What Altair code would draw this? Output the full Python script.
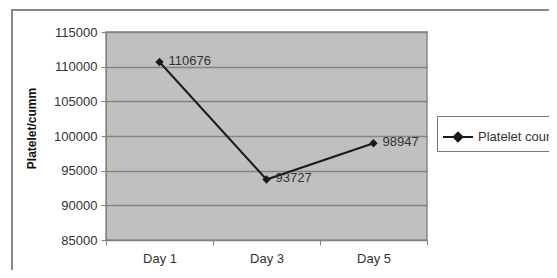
import altair as alt
import pandas as pd

days = ["Day 1", "Day 3", "Day 5"]
counts = [110676, 93727, 98947]
series = ["Platelet count", "Platelet count", "Platelet count"]
y_ticks = [85000, 90000, 95000, 100000, 105000, 110000, 115000]

df = pd.DataFrame({"day": days, "count": counts, "series": series})

FONT = "Liberation Sans"

x_axis = alt.Axis(labelAngle=0, tickBand="extent", grid=False,
                  labelFontSize=13, labelColor="#333", labelFont=FONT,
                  tickColor="#808080", domainColor="#808080",
                  tickSize=5, labelPadding=7)
y_axis = alt.Axis(values=y_ticks, format="d", grid=True, labelOverlap=False,
                  gridColor="#858585", gridWidth=1.3,
                  labelFontSize=13, labelColor="#333", labelFont=FONT,
                  tickColor="#808080", domainColor="#808080",
                  tickSize=5, labelPadding=4,
                  titleFont=FONT, titleFontSize=12, titleFontWeight="bold",
                  titleColor="#111", titlePadding=15, titleY=96)

x_enc = alt.X("day:N", sort=days, title=None,
              scale=alt.Scale(paddingInner=0, paddingOuter=0), axis=x_axis)
y_enc = alt.Y("count:Q", title="Platelet/cumm",
              scale=alt.Scale(domain=[85000, 115000], nice=False, zero=False),
              axis=y_axis)

color_enc = alt.Color("series:N", title=None,
                      scale=alt.Scale(range=["#1a1a1a"]),
                      legend=alt.Legend(orient="none", legendX=331, legendY=84,
                                        symbolType="M-1,0H1M0,-0.3L0.3,0L0,0.3L-0.3,0Z",
                                        symbolSize=900, symbolStrokeWidth=1.8,
                                        symbolFillColor="#1a1a1a",
                                        symbolStrokeColor="#1a1a1a",
                                        labelFont=FONT, labelFontSize=13,
                                        labelColor="#333", labelOffset=4,
                                        padding=5, strokeColor="#777",
                                        fillColor="white"))
color_nolegend = alt.Color("series:N", legend=None,
                           scale=alt.Scale(range=["#1a1a1a"]))

border = alt.Chart(pd.DataFrame({"a": [0]})).mark_rect(
    fill=None, stroke="#888", strokeWidth=2
).encode(x=alt.value(-94), x2=alt.value(470), y=alt.value(-22), y2=alt.value(260))

base = alt.Chart(df)
line = base.mark_line(strokeWidth=2).encode(x=x_enc, y=y_enc, color=color_enc)
pts = base.mark_point(shape="diamond", filled=True, size=70, opacity=1).encode(
    x=x_enc, y=y_enc, color=color_nolegend)
labels = base.mark_text(align="left", baseline="middle", dx=9, dy=-1,
                        font=FONT, fontSize=13, color="#333").encode(
    x=x_enc, y=y_enc, text="count:Q")

chart = alt.layer(border, line, pts, labels).properties(
    width=321, height=208,
    padding={"left": 98, "top": 24, "right": 122, "bottom": 30},
    autosize=alt.AutoSizeParams(type="none"),
    background="white",
).configure_view(fill="#c0c0c0", stroke="#8a8a8a", strokeWidth=1.5)

chart.save("out.html", embed_options={"renderer": "svg", "actions": False})
